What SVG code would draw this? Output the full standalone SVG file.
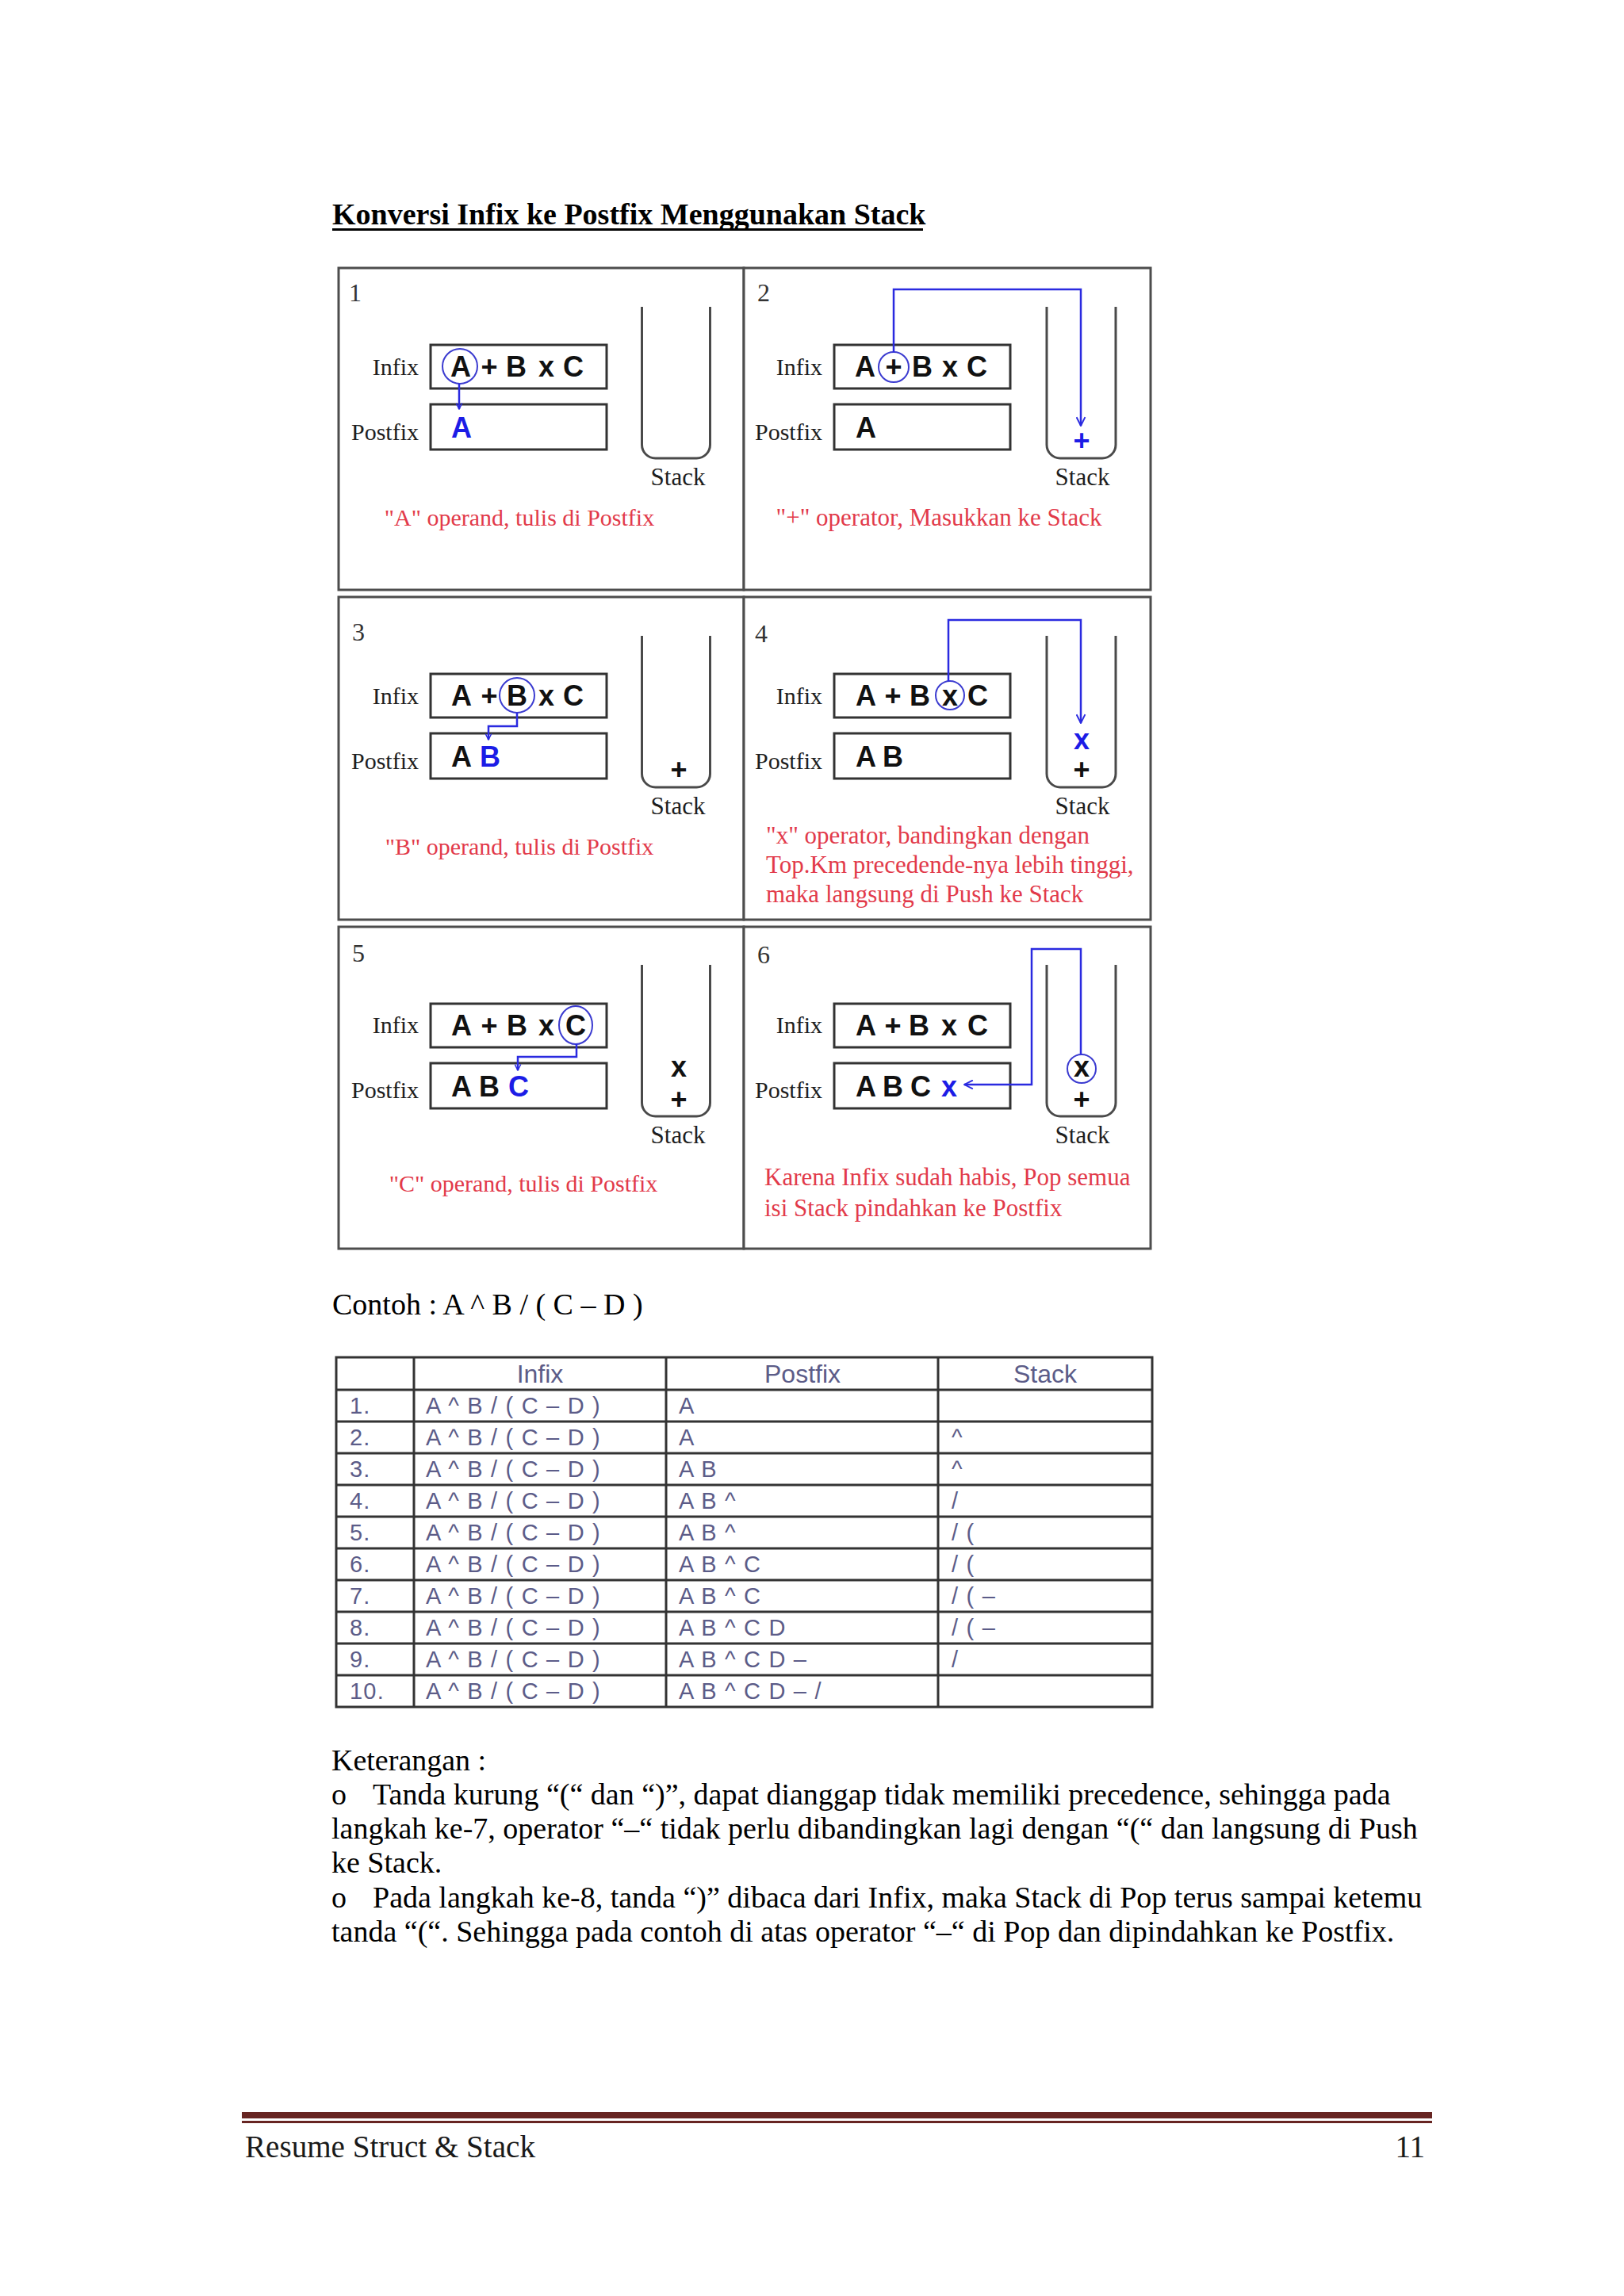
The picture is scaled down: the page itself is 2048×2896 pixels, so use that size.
<svg xmlns="http://www.w3.org/2000/svg" width="2048" height="2896" viewBox="0 0 2048 2896">
<defs>
<style>
.page{fill:#ffffff}
.frame{fill:#ffffff;stroke:#4d4d4d;stroke-width:3}
.box{fill:#ffffff;stroke:#333333;stroke-width:3}
.stk{fill:none;stroke:#4a4a4a;stroke-width:3}
.num{font-family:"Liberation Serif","Times New Roman",serif;font-size:32px;fill:#333333}
.lbl{font-family:"Liberation Serif","Times New Roman",serif;font-size:30px;fill:#1e1e1e;text-anchor:end}
.slbl{font-family:"Liberation Serif","Times New Roman",serif;font-size:31px;fill:#1e1e1e;text-anchor:middle}
.ex{font-family:"Liberation Sans",Arial,sans-serif;font-weight:bold;font-size:36px;fill:#111111;text-anchor:middle}
.blue{fill:#1c1ce6}
.cap{font-family:"Liberation Serif","Times New Roman",serif;font-size:30px;fill:#e23a4a}
.capw{font-size:31px}
.capm{text-anchor:middle}
.circ{fill:none;stroke:#3b3bd0;stroke-width:2}
.conn{fill:none;stroke:#2a2ae0;stroke-width:2.5}
.tline{stroke:#333333;stroke-width:3;fill:none}
.th{font-family:"Liberation Sans",Arial,sans-serif;font-size:32px;fill:#5c5c88;text-anchor:middle}
.td{font-family:"Liberation Sans",Arial,sans-serif;font-size:29px;fill:#5c5c88;letter-spacing:1.2px}
.body{font-family:"Liberation Serif","Times New Roman",serif;font-size:38px;fill:#000000}
.title{font-family:"Liberation Serif","Times New Roman",serif;font-size:38px;font-weight:bold;fill:#000000}
.foot{font-family:"Liberation Serif","Times New Roman",serif;font-size:39px;fill:#1a1a1a}
.rule{fill:#672522}
</style>
<marker id="ah" viewBox="0 0 12 12" refX="11" refY="6" markerWidth="13" markerHeight="13" markerUnits="userSpaceOnUse" orient="auto"><path d="M1,1 L11,6 L1,11" fill="none" stroke="#2a2ae0" stroke-width="1.8"/></marker>
<marker id="ahs" viewBox="0 0 12 12" refX="11" refY="6" markerWidth="9" markerHeight="9" markerUnits="userSpaceOnUse" orient="auto"><path d="M1,1 L11,6 L1,11" fill="none" stroke="#2a2ae0" stroke-width="2"/></marker>
</defs>
<rect class="page" x="0" y="0" width="2048" height="2896"/>

<g id="title">
<text class="title" x="419" y="283">Konversi Infix ke Postfix Menggunakan Stack</text>
<rect x="419" y="288" width="745" height="3" fill="#000"/>
</g>

<!-- Panel 1 -->
<g id="panel-1">
<rect class="frame" x="427" y="338" width="511" height="406"/>
<text class="num" x="440" y="380">1</text>
<text class="lbl" x="528" y="473">Infix</text>
<text class="lbl" x="528" y="555">Postfix</text>
<rect class="box" x="543" y="435" width="222" height="55"/>
<rect class="box" x="543" y="510" width="222" height="57"/>
<text class="ex" x="581" y="475">A</text><text class="ex" x="617" y="475">+</text><text class="ex" x="651" y="475">B</text><text class="ex" x="689" y="475">x</text><text class="ex" x="723" y="475">C</text>
<circle class="circ" cx="580" cy="462" r="22"/>
<text class="ex blue" x="582" y="552">A</text>
<path class="stk" d="M809.5,387 V561 A17,17 0 0 0 826.5,578 H878.5 A17,17 0 0 0 895.5,561 V387"/>
<text class="slbl" x="855" y="612">Stack</text>
<text class="cap capm" x="655" y="663">"A" operand, tulis di Postfix</text>
</g>

<!-- Panel 2 -->
<g id="panel-2">
<rect class="frame" x="938" y="338" width="513" height="406"/>
<text class="num" x="955" y="380">2</text>
<text class="lbl" x="1037" y="473">Infix</text>
<text class="lbl" x="1037" y="555">Postfix</text>
<rect class="box" x="1052" y="435" width="222" height="55"/>
<rect class="box" x="1052" y="510" width="222" height="57"/>
<text class="ex" x="1091" y="475">A</text><text class="ex" x="1127" y="475">+</text><text class="ex" x="1163" y="475">B</text><text class="ex" x="1198" y="475">x</text><text class="ex" x="1232" y="475">C</text>
<circle class="circ" cx="1127" cy="463" r="19"/>
<text class="ex" x="1092" y="552">A</text>
<path class="stk" d="M1320,387 V561 A17,17 0 0 0 1337,578 H1390 A17,17 0 0 0 1407,561 V387"/>
<text class="ex blue" x="1364" y="568">+</text>
<text class="slbl" x="1365" y="612">Stack</text>
<text class="cap capw capm" x="1184" y="663">"+" operator, Masukkan ke Stack</text>
</g>

<!-- Panel 3 -->
<g id="panel-3">
<rect class="frame" x="427" y="753" width="511" height="407"/>
<text class="num" x="444" y="808">3</text>
<text class="lbl" x="528" y="888">Infix</text>
<text class="lbl" x="528" y="970">Postfix</text>
<rect class="box" x="543" y="850" width="222" height="55"/>
<rect class="box" x="543" y="925" width="222" height="57"/>
<text class="ex" x="582" y="890">A</text><text class="ex" x="617" y="890">+</text><text class="ex" x="652" y="890">B</text><text class="ex" x="689" y="890">x</text><text class="ex" x="723" y="890">C</text>
<circle class="circ" cx="652" cy="877" r="22"/>
<text class="ex" x="582" y="967">A</text><text class="ex blue" x="618" y="967">B</text>
<path class="stk" d="M809.5,802 V976 A17,17 0 0 0 826.5,993 H878.5 A17,17 0 0 0 895.5,976 V802"/>
<text class="ex" x="856" y="983">+</text>
<text class="slbl" x="855" y="1027">Stack</text>
<text class="cap capm" x="655" y="1078">"B" operand, tulis di Postfix</text>
</g>

<!-- Panel 4 -->
<g id="panel-4">
<rect class="frame" x="938" y="753" width="513" height="407"/>
<text class="num" x="952" y="810">4</text>
<text class="lbl" x="1037" y="888">Infix</text>
<text class="lbl" x="1037" y="970">Postfix</text>
<rect class="box" x="1052" y="850" width="222" height="55"/>
<rect class="box" x="1052" y="925" width="222" height="57"/>
<text class="ex" x="1092" y="890">A</text><text class="ex" x="1126" y="890">+</text><text class="ex" x="1160" y="890">B</text><text class="ex" x="1198" y="890">x</text><text class="ex" x="1233" y="890">C</text>
<circle class="circ" cx="1198" cy="877" r="18"/>
<text class="ex" x="1092" y="967">A</text><text class="ex" x="1126" y="967">B</text>
<path class="stk" d="M1320,802 V976 A17,17 0 0 0 1337,993 H1390 A17,17 0 0 0 1407,976 V802"/>
<text class="ex blue" x="1364" y="945">x</text>
<text class="ex" x="1364" y="983">+</text>
<text class="slbl" x="1365" y="1027">Stack</text>
<text class="cap capw" x="966" y="1064">"x" operator, bandingkan dengan</text>
<text class="cap capw" x="966" y="1101">Top.Km precedende-nya lebih tinggi,</text>
<text class="cap capw" x="966" y="1138">maka langsung di Push ke Stack</text>
</g>

<!-- Panel 5 -->
<g id="panel-5">
<rect class="frame" x="427" y="1169" width="511" height="406"/>
<text class="num" x="444" y="1213">5</text>
<text class="lbl" x="528" y="1303">Infix</text>
<text class="lbl" x="528" y="1385">Postfix</text>
<rect class="box" x="543" y="1266" width="222" height="55"/>
<rect class="box" x="543" y="1341" width="222" height="57"/>
<text class="ex" x="582" y="1306">A</text><text class="ex" x="617" y="1306">+</text><text class="ex" x="652" y="1306">B</text><text class="ex" x="689" y="1306">x</text><text class="ex" x="726" y="1306">C</text>
<ellipse class="circ" cx="726" cy="1293" rx="21" ry="24"/>
<text class="ex" x="582" y="1383">A</text><text class="ex" x="617" y="1383">B</text><text class="ex blue" x="654" y="1383">C</text>
<path class="stk" d="M809.5,1217 V1391 A17,17 0 0 0 826.5,1408 H878.5 A17,17 0 0 0 895.5,1391 V1217"/>
<text class="ex" x="856" y="1358">x</text>
<text class="ex" x="856" y="1399">+</text>
<text class="slbl" x="855" y="1442">Stack</text>
<text class="cap capm" x="660" y="1503">"C" operand, tulis di Postfix</text>
</g>

<!-- Panel 6 -->
<g id="panel-6">
<rect class="frame" x="938" y="1169" width="513" height="406"/>
<text class="num" x="955" y="1215">6</text>
<text class="lbl" x="1037" y="1303">Infix</text>
<text class="lbl" x="1037" y="1385">Postfix</text>
<rect class="box" x="1052" y="1266" width="222" height="55"/>
<rect class="box" x="1052" y="1341" width="222" height="57"/>
<text class="ex" x="1092" y="1306">A</text><text class="ex" x="1126" y="1306">+</text><text class="ex" x="1159" y="1306">B</text><text class="ex" x="1197" y="1306">x</text><text class="ex" x="1233" y="1306">C</text>
<text class="ex" x="1092" y="1383">A</text><text class="ex" x="1126" y="1383">B</text><text class="ex" x="1161" y="1383">C</text><text class="ex blue" x="1197" y="1383">x</text>
<path class="stk" d="M1320,1217 V1391 A17,17 0 0 0 1337,1408 H1390 A17,17 0 0 0 1407,1391 V1217"/>
<circle class="circ" cx="1364" cy="1348" r="18"/>
<text class="ex" x="1364" y="1358">x</text>
<text class="ex" x="1364" y="1399">+</text>
<text class="slbl" x="1365" y="1442">Stack</text>
<text class="cap capw" x="964" y="1495">Karena Infix sudah habis, Pop semua</text>
<text class="cap capw" x="964" y="1534">isi Stack pindahkan ke Postfix</text>
</g>

<g id="connectors">
<path class="conn" d="M579,484 V516" marker-end="url(#ahs)"/>
<path class="conn" d="M1127,444 V365 H1363 V537" marker-end="url(#ah)"/>
<path class="conn" d="M652,899 V916 H616 V933" marker-end="url(#ahs)"/>
<path class="conn" d="M1196,859 V782 H1363 V912" marker-end="url(#ah)"/>
<path class="conn" d="M727,1317 V1333 H653 V1350" marker-end="url(#ahs)"/>
<path class="conn" d="M1363,1330 V1197 H1301 V1368 H1216" marker-end="url(#ah)"/>
</g>

<g id="contoh">
<text class="body" x="419" y="1658">Contoh : A ^ B / ( C – D )</text>
</g>

<g id="table">
<rect class="tline" x="424" y="1712" width="1029" height="441"/>
<path class="tline" d="M424,1753 H1453 M424,1793 H1453 M424,1833 H1453 M424,1873 H1453 M424,1913 H1453 M424,1953 H1453 M424,1993 H1453 M424,2033 H1453 M424,2073 H1453 M424,2113 H1453 M522,1712 V2153 M840,1712 V2153 M1183,1712 V2153"/>
<text class="th" x="681" y="1744">Infix</text>
<text class="th" x="1012" y="1744">Postfix</text>
<text class="th" x="1318" y="1744">Stack</text>
<text class="td" x="441" y="1783">1.</text><text class="td" x="537" y="1783">A ^ B / ( C – D )</text><text class="td" x="856" y="1783">A</text>
<text class="td" x="441" y="1823">2.</text><text class="td" x="537" y="1823">A ^ B / ( C – D )</text><text class="td" x="856" y="1823">A</text><text class="td" x="1200" y="1823">^</text>
<text class="td" x="441" y="1863">3.</text><text class="td" x="537" y="1863">A ^ B / ( C – D )</text><text class="td" x="856" y="1863">A B</text><text class="td" x="1200" y="1863">^</text>
<text class="td" x="441" y="1903">4.</text><text class="td" x="537" y="1903">A ^ B / ( C – D )</text><text class="td" x="856" y="1903">A B ^</text><text class="td" x="1200" y="1903">/</text>
<text class="td" x="441" y="1943">5.</text><text class="td" x="537" y="1943">A ^ B / ( C – D )</text><text class="td" x="856" y="1943">A B ^</text><text class="td" x="1200" y="1943">/ (</text>
<text class="td" x="441" y="1983">6.</text><text class="td" x="537" y="1983">A ^ B / ( C – D )</text><text class="td" x="856" y="1983">A B ^ C</text><text class="td" x="1200" y="1983">/ (</text>
<text class="td" x="441" y="2023">7.</text><text class="td" x="537" y="2023">A ^ B / ( C – D )</text><text class="td" x="856" y="2023">A B ^ C</text><text class="td" x="1200" y="2023">/ ( –</text>
<text class="td" x="441" y="2063">8.</text><text class="td" x="537" y="2063">A ^ B / ( C – D )</text><text class="td" x="856" y="2063">A B ^ C D</text><text class="td" x="1200" y="2063">/ ( –</text>
<text class="td" x="441" y="2103">9.</text><text class="td" x="537" y="2103">A ^ B / ( C – D )</text><text class="td" x="856" y="2103">A B ^ C D –</text><text class="td" x="1200" y="2103">/</text>
<text class="td" x="441" y="2143">10.</text><text class="td" x="537" y="2143">A ^ B / ( C – D )</text><text class="td" x="856" y="2143">A B ^ C D – /</text>
</g>

<g id="keterangan">
<text class="body" x="418" y="2233">Keterangan :</text>
<text class="body" x="418" y="2276">o<tspan x="470">Tanda kurung “(“ dan “)”, dapat dianggap tidak memiliki precedence, sehingga pada</tspan></text>
<text class="body" x="418" y="2319">langkah ke-7, operator “–“  tidak perlu dibandingkan lagi dengan “(“ dan langsung di Push</text>
<text class="body" x="418" y="2362">ke Stack.</text>
<text class="body" x="418" y="2406">o<tspan x="470">Pada langkah ke-8, tanda “)” dibaca dari Infix, maka Stack di Pop terus sampai ketemu</tspan></text>
<text class="body" x="418" y="2449">tanda “(“. Sehingga pada contoh di atas operator “–“ di Pop dan dipindahkan ke Postfix.</text>
</g>

<g id="footer">
<rect class="rule" x="305" y="2664" width="1501" height="8"/>
<rect class="rule" x="305" y="2675" width="1501" height="3"/>
<text class="foot" x="309" y="2721" textLength="366" lengthAdjust="spacingAndGlyphs">Resume Struct &amp; Stack</text>
<text class="foot" x="1797" y="2721" text-anchor="end">11</text>
</g>
</svg>
